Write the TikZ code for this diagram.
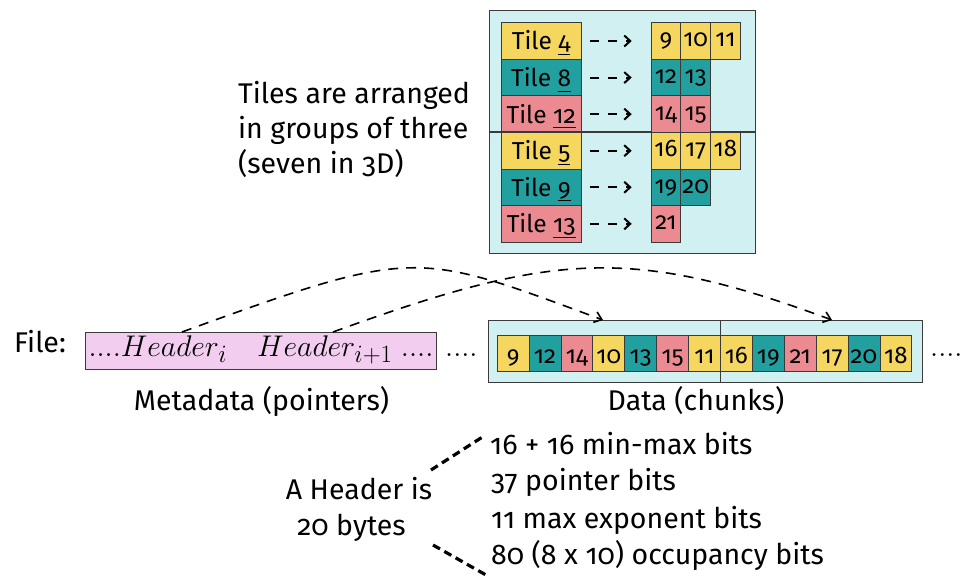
\documentclass[tikz,border=0pt]{standalone}
\usepackage{fontspec}
\setmainfont{Fira Sans}[Numbers=OldStyle]
\usetikzlibrary{arrows.meta}

\definecolor{tileyellow}{HTML}{F5D65F}
\definecolor{tileteal}{HTML}{22A0A0}
\definecolor{tilepink}{HTML}{EC8A92}
\definecolor{panelcyan}{HTML}{D0F0F2}
\definecolor{metapink}{HTML}{F2CDF0}
\definecolor{edgegray}{HTML}{3A3A3A}

\newcommand\mainsize{\fontsize{28.5}{35}\selectfont}

\begin{document}
\begin{tikzpicture}[x=1pt,y=-1pt,
  txt/.style={font=\mainsize, inner sep=0pt},
  panel/.style={draw=edgegray, fill=panelcyan, line width=1pt, inner sep=0pt, anchor=north west},
  tilebox/.style={draw=edgegray, line width=0.8pt, minimum width=79.5pt, minimum height=36.6pt,
    inner sep=0pt, anchor=north west, text height=21pt, text depth=3pt,
    font=\fontsize{24.5}{28}\selectfont},
  cell/.style={draw=edgegray, line width=0.8pt, minimum width=29.7pt, minimum height=36.6pt,
    inner sep=0pt, anchor=north west, text height=18pt, text depth=6pt,
    font=\fontsize{24}{28}\selectfont},
  dcell/.style={cell, minimum width=31.9pt, minimum height=36pt, text height=22pt, text depth=2pt},
  tilearrow/.style={line width=2pt, dash pattern=on 9pt off 9pt,
    -{Straight Barb[length=6pt,width=11pt]}},
  pointer/.style={line width=1.6pt, dash pattern=on 10pt off 8pt,
    -{Straight Barb[length=7pt,width=11pt]}},
  bytelink/.style={line width=3.2pt, dash pattern=on 8pt off 5pt},
]
\path[use as bounding box] (0,0) rectangle (965,575);

% ---- tile groups and their chunk lists ----
\node[panel, minimum width=266pt, minimum height=243pt] (tilepanel) at (488.5,10) {};

\foreach \t/\c [count=\r from 0] in {4/tileyellow,8/tileteal,12/tilepink,5/tileyellow,9/tileteal,13/tilepink}
  \node[tilebox, fill=\c] (t\t) at (501,22.3+\r*36.57) {Tile \underline{\t\vphantom{9}}};

\draw[edgegray, line width=1.2pt] (tilepanel.west |- t5.north) -- (tilepanel.east |- t5.north);

% chunk cells: number / colour / column / row
\foreach \n/\c/\col/\row in {9/tileyellow/0/0, 10/tileyellow/1/0, 11/tileyellow/2/0,
    12/tileteal/0/1, 13/tileteal/1/1,
    14/tilepink/0/2, 15/tilepink/1/2,
    16/tileyellow/0/3, 17/tileyellow/1/3, 18/tileyellow/2/3,
    19/tileteal/0/4, 20/tileteal/1/4,
    21/tilepink/0/5}
  \node[cell, fill=\c] (c\n) at (650.7+\col*29.7,22.3+\row*36.57) {\n};

\foreach \t/\n in {4/9, 8/12, 12/14, 5/16, 9/19, 13/21}
  \draw[tilearrow] ([xshift=9pt]t\t.east) -- ([xshift=-19pt]c\n.west);

% the base anchor of a multi-line node sits on its last line
\node[txt, anchor=base west, align=left] (tilenote) at (238,173)
  {Tiles are arranged\\in groups of three\\(seven in 3D)};

% ---- file layout ----
\node[txt, anchor=base west] (filelbl) at (14,352) {File:};

% math fonts stop growing near 25pt, so the header formula is scaled up
\node[draw=edgegray, fill=metapink, line width=1pt, minimum width=351pt, minimum height=37.3pt,
  inner sep=0pt, anchor=north west, text height=18pt, text depth=6pt,
  font=\fontsize{24.88}{28}\selectfont] (meta) at (85,331.7)
  {\scalebox{1.2}{$....Header_i\quad Header_{i+1}\;....$}};
\node[txt, anchor=base west] (gapdots) at (445,356) {\scalebox{1.2}{$....$}};

\node[panel, minimum width=433.7pt, minimum height=61.7pt] (datapanel) at (488,320) {};
\foreach \n/\c [count=\i from 0] in {9/tileyellow, 12/tileteal, 14/tilepink, 10/tileyellow,
    13/tileteal, 15/tilepink, 11/tileyellow, 16/tileyellow, 19/tileteal, 21/tilepink,
    17/tileyellow, 20/tileteal, 18/tileyellow}
  \node[dcell, fill=\c] (d\n) at (496.7+\i*31.9,335) {\n};
\draw[edgegray, line width=1pt] (datapanel.north -| d16.west) -- (datapanel.south -| d16.west);
\node[txt, anchor=base west] (taildots) at (930,356) {\scalebox{1.2}{$....$}};

\node[txt, anchor=base] (metalbl) at (261.5,410) {Metadata (pointers)};
\node[txt, anchor=base] (datalbl) at (696,410) {Data (chunks)};

% header pointers into the data
\coordinate (src1) at (182,332);
\coordinate (dst1) at (603,320);
\coordinate (src2) at (333,332);
\coordinate (dst2) at (832,320);
\draw[pointer] (src1) .. controls (417,246.5) and (415,250.6) .. (dst1);
\draw[pointer] (src2) .. controls (554,251.6) and (631.8,246.2) .. (dst2);

% ---- header contents ----
\node[txt, anchor=base] (hdr1) at (359,499) {A Header is};
\node[txt, anchor=base] (hdr2) at (351.5,535) {20 bytes};

\node[txt, anchor=base west] (b1) at (490,454) {16 + 16 min-max bits};
\node[txt, anchor=base west] (b2) at (491,490) {37 pointer bits};
\node[txt, anchor=base west] (b3) at (491,528) {11 max exponent bits};
\node[txt, anchor=base west] (b4) at (491,564) {80 (8 x 10) occupancy bits};

\coordinate (up0) at (431,470);
\coordinate (up1) at (484,436);
\coordinate (lo0) at (433,545);
\coordinate (lo1) at (486,575);
\draw[bytelink] (up0) -- (up1);
\draw[bytelink] (lo0) -- (lo1);
\end{tikzpicture}
\end{document}
